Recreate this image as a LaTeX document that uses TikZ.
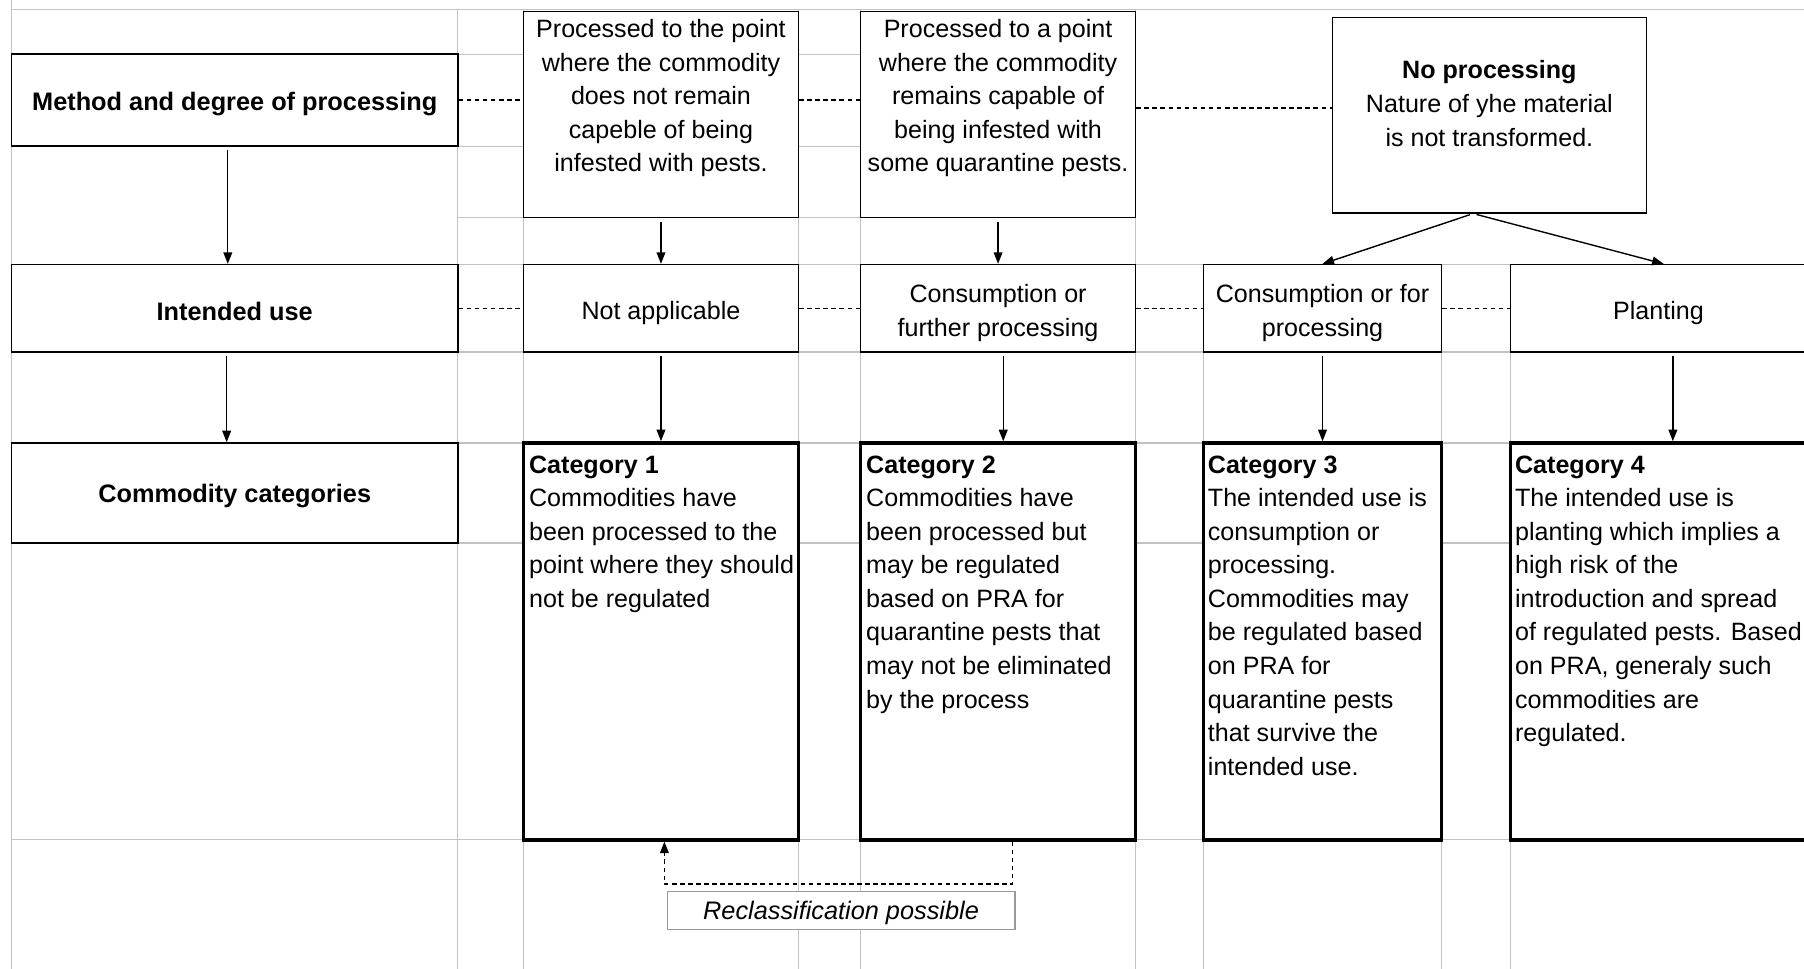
\documentclass[tikz,border=0pt]{standalone}
\usepackage{fontspec}
\setmainfont{Liberation Sans}
\usetikzlibrary{fit,arrows.meta}

\begin{document}
\begin{tikzpicture}[x=0.5pt, y=-0.5pt,
    >={Triangle[length=5pt,width=3.8pt]},
    gridline/.style={black!24, line width=0.5pt},
    cellbox/.style={draw, fill=white, line width=0.65pt, inner sep=0pt},
    catbox/.style={draw, fill=white, line width=1.5pt, inner sep=0pt},
    boxtext/.style={inner sep=0pt, align=center, font=\fontsize{10.9}{14.6}\selectfont},
    rowlabel/.style={boxtext, yshift=-1.5pt, font=\fontsize{11}{14.6}\selectfont\bfseries},
    dashline/.style={dash pattern=on 2pt off 1.5pt, line width=0.6pt},
    arr/.style={->, line width=0.6pt, shorten <=1.5pt}]
            \useasboundingbox (0,0) rectangle (1568,842);

            % Sheet grid
            \draw [gridline] (10,0) -- (10,842);
            \draw [gridline] (10,8) -- (1570,8);
            \foreach \y in {47,127}
                \draw [gridline] (10,\y) -- (987,\y);
            \draw [gridline] (398,189) -- (987,189);
            \foreach \y in {230,306,385,472,730}
                \draw [gridline] (10,\y) -- (1570,\y);
            \foreach \x in {398,455,694,748,987}
                \draw [gridline] (\x,8) -- (\x,842);
            \foreach \x in {1046,1253,1313}
                \draw [gridline] (\x,230) -- (\x,842);

            % Row headings
            \node [cellbox, fit={(10,47) (398,127)}] (method) {};
            \node [cellbox, fit={(10,230) (398,306)}] (intended) {};
            \node [cellbox, fit={(10,385) (398,472)}] (commod) {};
            \node [rowlabel] (methodtxt) at (method.center) {Method and degree of processing};
            \node [rowlabel] (intendedtxt) at (intended.center) {Intended use};
            \node [rowlabel] (commodtxt) at (commod.center) {Commodity categories};

            % Processing
            \node [cellbox, fit={(455,10) (694,189)}] (proc1) {};
            \node [boxtext, anchor=north] (proc1txt) at ([shift={(0,7)}]proc1.north)
                {Processed to the point\\where the commodity\\does not remain\\capeble of being\\infested with pests.};
            \node [cellbox, fit={(748,10) (987,189)}] (proc2) {};
            \node [boxtext, anchor=north] (proc2txt) at ([shift={(0,7)}]proc2.north)
                {Processed to a point\\where the commodity\\remains capable of\\being infested with\\some quarantine pests.};
            \node [cellbox, fit={(1158,15) (1431,185)}] (noproc) {};
            \node [boxtext, anchor=north] (noproctxt) at ([shift={(0,38)}]noproc.north)
                {\textbf{No processing}\\Nature of yhe material\\is not transformed.};

            % Intended use
            \node [cellbox, fit={(455,230) (694,306)}] (notapp) {};
            \node [cellbox, fit={(748,230) (987,306)}] (consfurther) {};
            \node [cellbox, fit={(1046,230) (1253,306)}] (consproc) {};
            \node [cellbox, fit={(1313,230) (1570,306)}] (planting) {};
            \node [boxtext] (notapptxt) at ([yshift=-2pt]notapp.center) {Not applicable};
            \node [boxtext] (consfurthertxt) at ([yshift=-2pt]consfurther.center) {Consumption or\\further processing};
            \node [boxtext] (consproctxt) at ([yshift=-2pt]consproc.center) {Consumption or for\\processing};
            \node [boxtext] (plantingtxt) at ([yshift=-2pt]planting.center) {Planting};

            % Categories
            \node [catbox, fit={(455,385) (694,730)}] (cat1) {};
            \node [catbox, fit={(748,385) (987,730)}] (cat2) {};
            \node [catbox, fit={(1046,385) (1253,730)}] (cat3) {};
            \node [catbox, fit={(1313,385) (1570,730)}] (cat4) {};
            \node [boxtext, anchor=north west, align=left] (cat1txt) at ([shift={(6,12)}]cat1.north west)
                {\textbf{Category 1}\\Commodities have\\been processed to the\\point where they should\\not be regulated};
            \node [boxtext, anchor=north west, align=left] (cat2txt) at ([shift={(6,12)}]cat2.north west)
                {\textbf{Category 2}\\Commodities have\\been processed but\\may be regulated\\based on PRA for\\quarantine pests that\\may not be eliminated\\by the process};
            \node [boxtext, anchor=north west, align=left] (cat3txt) at ([shift={(5,12)}]cat3.north west)
                {\textbf{Category 3}\\The intended use is\\consumption or\\processing.\\Commodities may\\be regulated based\\on PRA for\\quarantine pests\\that survive the\\intended use.};
            \node [boxtext, anchor=north west, align=left] (cat4txt) at ([shift={(5,12)}]cat4.north west)
                {\textbf{Category 4}\\The intended use is\\planting which implies a\\high risk of the\\introduction and spread\\of regulated pests. Based\\on PRA, generaly such\\commodities are\\regulated.};

            % Reclassification note
            \node [cellbox, draw=black!40, fit={(580,775) (882,808)}] (reclass) {};
            \node [boxtext, font=\fontsize{11}{14.6}\selectfont\itshape] (reclasstxt) at ([yshift=-1pt]reclass.center) {Reclassification possible};

            % Dashed links along the rows
            \draw [dashline] (method.east) -- (method.east -| proc1.west);
            \draw [dashline] (proc1.east |- method.east) -- (proc2.west |- method.east);
            \coordinate (npin) at ([yshift=3pt]noproc.west);
            \draw [dashline] (proc2.east |- npin) -- (npin);
            \draw [dashline] (intended.east) -- (notapp.west);
            \draw [dashline] (notapp.east) -- (consfurther.west);
            \draw [dashline] (consfurther.east) -- (consproc.west);
            \draw [dashline] (consproc.east) -- (planting.west);

            % Arrows down
            \draw [arr] ([xshift=-3pt]method.south) -- ([xshift=-3pt]method.south |- intended.north);
            \draw [arr] ([xshift=-3.5pt]intended.south) -- ([xshift=-3.5pt]intended.south |- commod.north);
            \draw [arr] (proc1.south) -- (notapp.north);
            \draw [arr] (proc2.south) -- (consfurther.north);
            \draw [arr] ([xshift=-7pt]noproc.south) -- (consproc.north);
            \draw [arr] ([xshift=-7pt]noproc.south) -- ([xshift=2.25pt]planting.north);
            \draw [arr] (notapp.south) -- (cat1.north);
            \draw [arr] ([xshift=2.25pt]consfurther.south) -- ([xshift=2.25pt]consfurther.south |- cat2.north);
            \draw [arr] (consproc.south) -- (cat3.north);
            \draw [arr] ([xshift=6.25pt]planting.south) -- ([xshift=6.25pt]planting.south |- cat4.north);

            % Back to category 1
            \draw [dashline, ->] ([xshift=6.25pt]cat2.south) -- ++(0,37) -| ([xshift=1.5pt]cat1.south);
        \end{tikzpicture}
\end{document}
